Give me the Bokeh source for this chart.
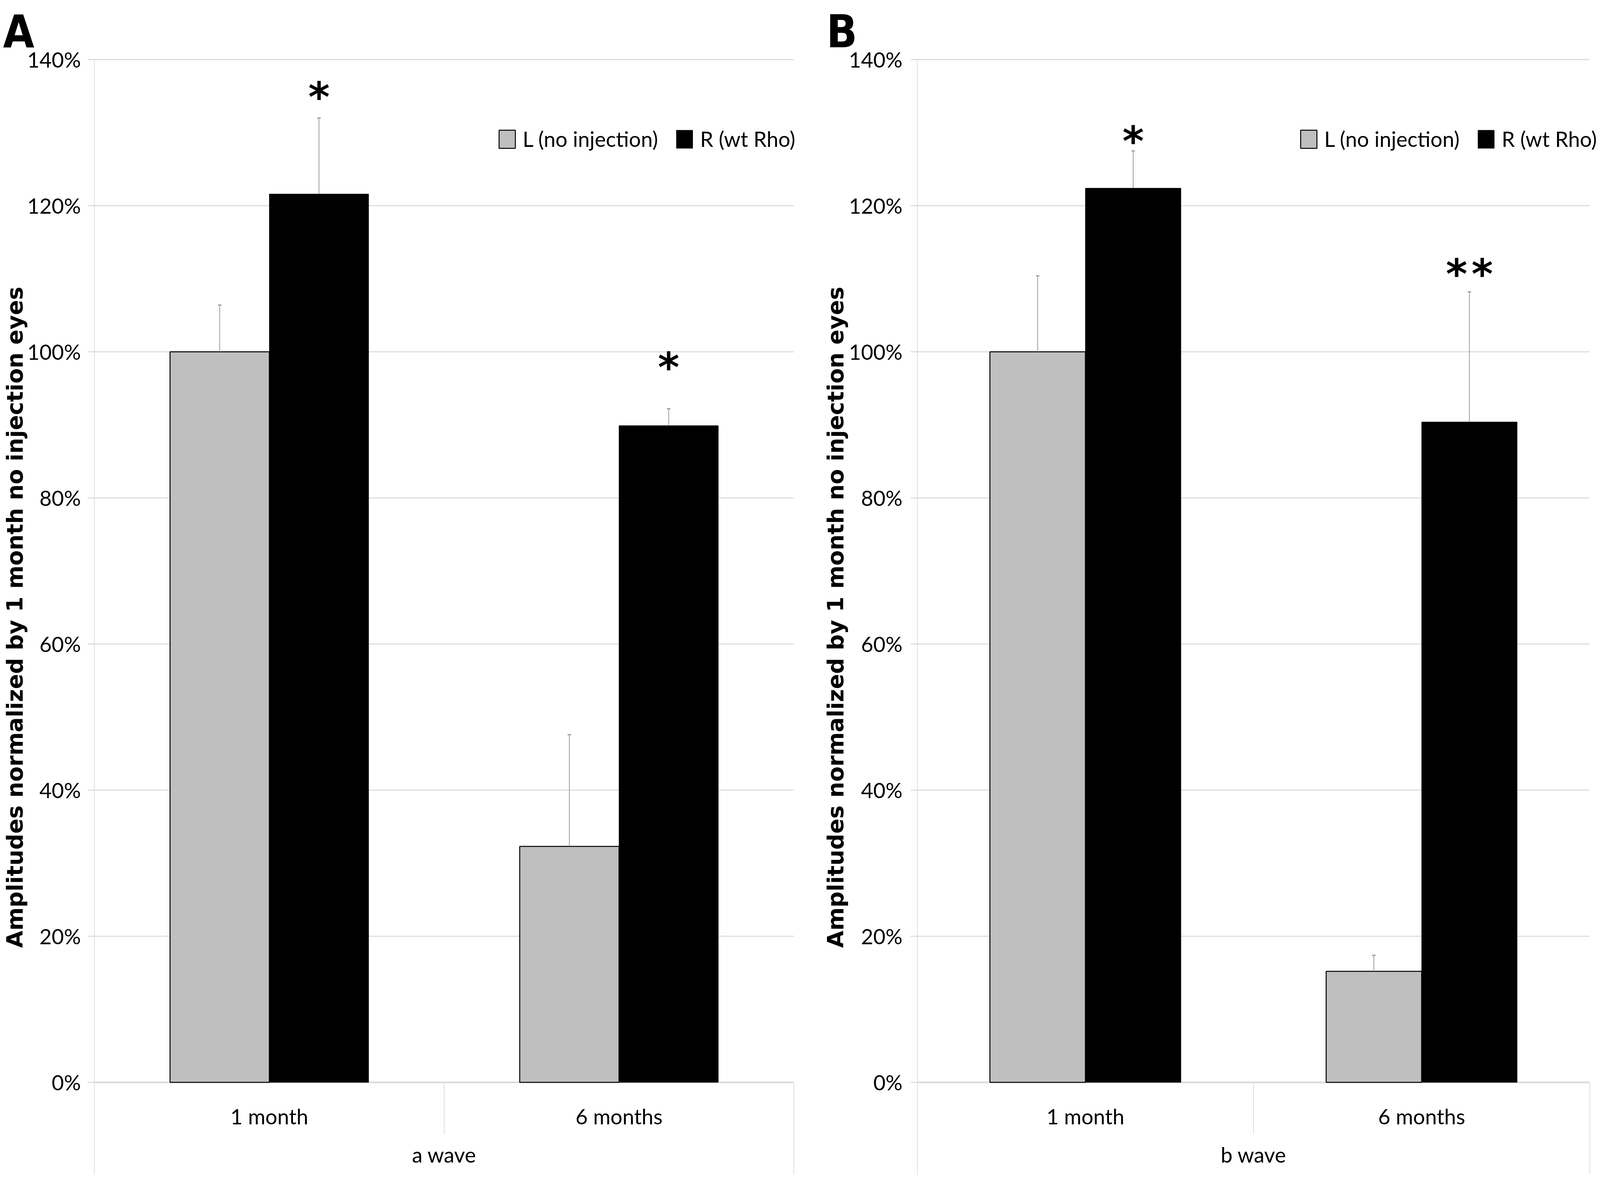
from bokeh.plotting import figure
from bokeh.models import (Range1d, FixedTicker, NumeralTickFormatter,
                          Legend, LegendItem, ColumnDataSource, Label)
from bokeh.layouts import row
from bokeh.embed import file_html
from bokeh.resources import INLINE
from bokeh.core.properties import value

# ---------------- data ----------------
categories = ["1 month", "6 months"]
series_names = ["L (no injection)", "R (wt Rho)"]
y_ticks = [0.0, 0.2, 0.4, 0.6, 0.8, 1.0, 1.2, 1.4]
y_title = "Amplitudes normalized by 1 month no injection eyes"

a_L = [1.00, 0.323]
a_L_err = [0.064, 0.153]
a_R = [1.216, 0.899]
a_R_err = [0.104, 0.023]
a_sig = ["*", "*"]
a_sig_y = [1.36, 0.99]

b_L = [1.00, 0.152]
b_L_err = [0.104, 0.022]
b_R = [1.224, 0.904]
b_R_err = [0.051, 0.178]
b_sig = ["*", "*\u200a*"]
b_sig_y = [1.30, 1.118]

# ---------------- style ----------------
GRID = "#d9d9d9"
GRAY = "#bfbfbf"
ERR = "#8c8c8c"
FONT = "Lato"
LETTER_FONT = "'Liberation Sans Narrow', 'DejaVu Sans Condensed', 'Liberation Sans'"

W, H = 2048, 3007
Y_LO, Y_HI = -0.1267, 1.4813
PPU_Y = 1870
BAR_W = 0.284
OFF = 0.142


def panel(letter, group, L, Le, R, Re, sig, sig_y, x_lo, x_hi, letter_dx,
          ylab_standoff, ytick_standoff, leg_x):
    n = len(categories)
    p = figure(width=W, height=H, output_backend="svg", toolbar_location=None,
               x_range=Range1d(x_lo, x_hi), y_range=Range1d(Y_LO, Y_HI),
               min_border_left=0, min_border_right=0,
               min_border_top=0, min_border_bottom=0)
    p.outline_line_color = None
    p.background_fill_color = "white"
    p.xgrid.visible = False
    p.ygrid.visible = False

    cat_x = [i + 0.5 for i in range(n)]

    # horizontal gridlines from the value axis to the end of the category axis
    gy = [t for t in y_ticks if t > 0]
    p.segment(x0=[0] * len(gy), x1=[n] * len(gy), y0=gy, y1=gy,
              line_color=GRID, line_width=2.5)

    # category separators below the axis
    edges = list(range(1, n + 1))
    ends = [-0.0706 if e < n else -0.1257 for e in edges]
    p.segment(x0=edges, x1=edges, y0=[0] * n, y1=ends, line_color=GRID, line_width=1.7)

    # value axis at x = 0
    ya = p.yaxis[0]
    ya.fixed_location = 0
    ya.ticker = FixedTicker(ticks=y_ticks)
    ya.formatter = NumeralTickFormatter(format="0%")
    ya.bounds = (Y_LO, 1.4)
    ya.axis_line_color = GRID
    ya.axis_line_width = 1.7
    ya.major_tick_line_color = GRID
    ya.major_tick_line_width = 2.5
    ya.major_tick_out = 17
    ya.major_tick_in = 0
    ya.minor_tick_line_color = None
    ya.major_label_text_font = FONT
    ya.major_label_text_font_size = "54px"
    ya.major_label_text_color = "black"
    ya.major_label_standoff = ytick_standoff
    ya.axis_label = y_title
    ya.axis_label_text_font = "DejaVu Sans"
    ya.axis_label_text_font_style = "bold"
    ya.axis_label_text_font_size = "57px"
    ya.axis_label_text_color = "black"
    ya.axis_label_standoff = ylab_standoff

    # category axis at y = 0
    xa = p.xaxis[0]
    xa.fixed_location = 0
    xa.level = "underlay"
    xa.bounds = (0, n)
    xa.ticker = FixedTicker(ticks=cat_x)
    xa.major_label_overrides = {c: lab for c, lab in zip(cat_x, categories)}
    xa.axis_line_color = GRID
    xa.axis_line_width = 4
    xa.major_tick_line_color = None
    xa.minor_tick_line_color = None
    xa.major_label_text_font = FONT
    xa.major_label_text_font_size = "54px"
    xa.major_label_text_color = "black"
    xa.major_label_standoff = 48
    xa.axis_label = group
    xa.axis_label_text_font = FONT
    xa.axis_label_text_font_style = "normal"
    xa.axis_label_text_font_size = "54px"
    xa.axis_label_text_color = "black"
    xa.axis_label_standoff = 30

    xl = [c - OFF for c in cat_x]
    xr = [c + OFF for c in cat_x]
    srcL = ColumnDataSource(dict(x=xl, val=L, up=[v + e for v, e in zip(L, Le)]))
    srcR = ColumnDataSource(dict(x=xr, val=R, up=[v + e for v, e in zip(R, Re)],
                                 sig=sig, sig_y=sig_y))

    rL = p.vbar(x="x", top="val", bottom=0, width=BAR_W, source=srcL,
                fill_color=GRAY, line_color="black", line_width=2.5)
    rR = p.vbar(x="x", top="val", bottom=0, width=BAR_W, source=srcR,
                fill_color="black", line_color="black", line_width=1)

    for src in (srcL, srcR):
        p.segment(x0="x", x1="x", y0="val", y1="up", source=src,
                  line_color=ERR, line_width=1.7)
        p.scatter(x="x", y="up", source=src, marker="dash", size=9,
                  line_color=ERR, line_width=2.5)

    p.text(x="x", y="sig_y", text="sig", source=srcR, text_font=value("DejaVu Sans"),
           text_font_style="bold", text_font_size="105px", text_align="center",
           text_baseline="middle", text_color="black", y_offset=22)

    leg = Legend(items=[LegendItem(label=series_names[0], renderers=[rL]),
                        LegendItem(label=series_names[1], renderers=[rR])],
                 location=(leg_x, 2619), orientation="horizontal")
    leg.glyph_width = 52
    leg.glyph_height = 58
    leg.label_standoff = 14
    leg.spacing = 42
    leg.padding = 0
    leg.margin = 0
    leg.border_line_color = None
    leg.background_fill_alpha = 0
    leg.label_text_font = FONT
    leg.label_text_font_size = "54px"
    leg.label_text_color = "black"
    leg.label_text_baseline = "middle"
    p.add_layout(leg)

    p.add_layout(Label(x=x_lo + letter_dx, y=Y_HI - 80 / PPU_Y, text=letter,
                       text_font=LETTER_FONT,
                       text_font_style="bold", text_font_size="115px",
                       text_align="left", text_baseline="middle",
                       text_color="black"))
    return p


pA = panel("A", "a wave", a_L, a_L_err, a_R, a_R_err, a_sig, a_sig_y,
           x_lo=-0.2697, x_hi=2.0181, letter_dx=0.008,
           ylab_standoff=-5, ytick_standoff=18, leg_x=1272)
pB = panel("B", "b wave", b_L, b_L_err, b_R, b_R_err, b_sig, b_sig_y,
           x_lo=-0.3482, x_hi=2.031, letter_dx=0.078,
           ylab_standoff=-2, ytick_standoff=21, leg_x=1276)

layout = row(pA, pB)
open("out.html", "w").write(file_html(layout, INLINE))
